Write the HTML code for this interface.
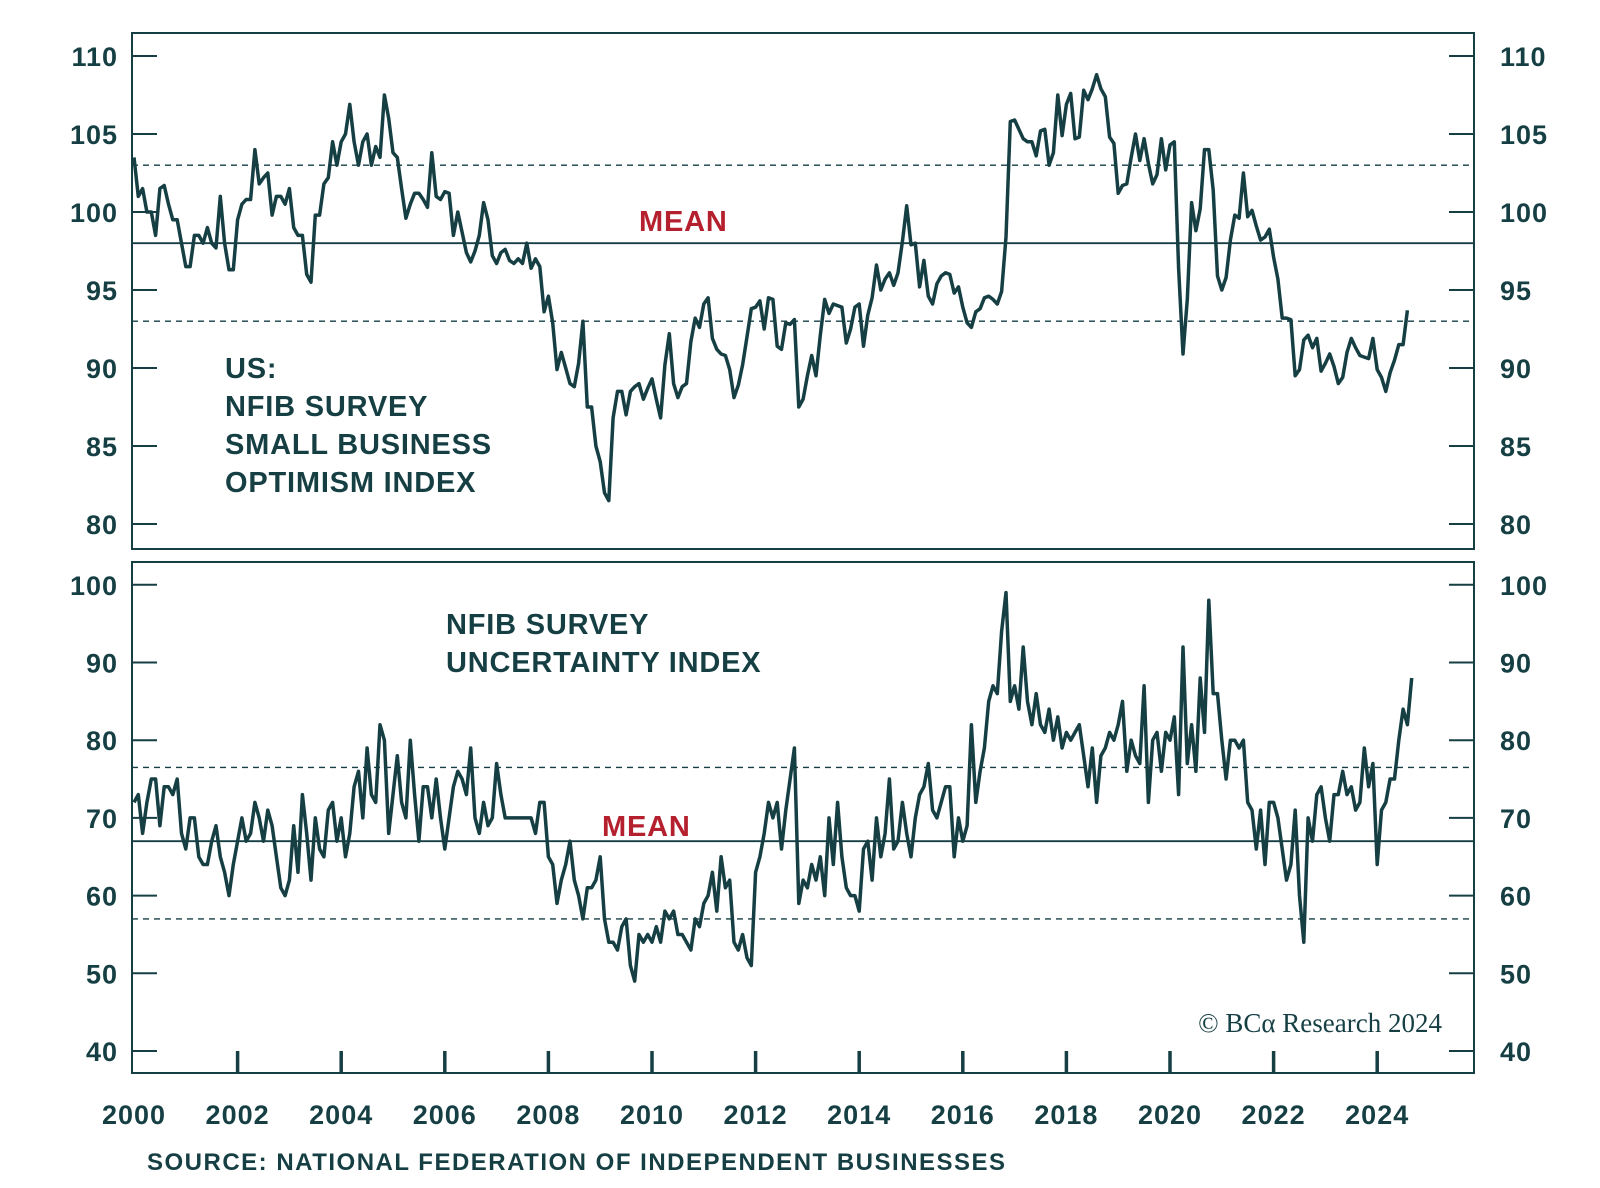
<!DOCTYPE html>
<html><head><meta charset="utf-8"><style>
body{margin:0;background:#fff;}
svg{display:block;font-family:"Liberation Sans",sans-serif;}
</style></head><body>
<svg id="c" width="1600" height="1188" viewBox="0 0 1600 1188"></svg>
<script>
const years=["2000","2002","2004","2006","2008","2010","2012","2014","2016","2018","2020","2022","2024"];
const topTicks=[80,85,90,95,100,105,110];
const botTicks=[40,50,60,70,80,90,100];
const topMean=98, topUpper=103, topLower=93;
const botMean=67, botUpper=76.5, botLower=57;
const optimism=[103.5,101,101.5,100,100,98.5,101.5,101.7,100.5,99.5,99.5,98,
96.5,96.5,98.5,98.5,98,99,98,97.7,101,98,96.3,96.3,
99.5,100.5,100.8,100.8,104,101.8,102.2,102.5,99.8,101,101,100.5,
101.5,99,98.5,98.5,96,95.5,99.8,99.8,101.8,102.2,104.5,103,
104.5,105,106.9,104.5,103,104.5,105,103,104.2,103.5,107.5,106,
103.8,103.5,101.5,99.6,100.5,101.2,101.2,100.8,100.3,103.8,101,100.8,
101.3,101.2,98.5,100,98.7,97.4,96.8,97.5,98.5,100.6,99.5,97.2,
96.7,97.4,97.6,96.9,96.7,97,96.7,98,96.4,97,96.5,93.6,
94.6,92.9,89.9,91,90,89,88.8,90.3,93,87.5,87.5,85,
84,82,81.5,86.8,88.5,88.5,87,88.5,88.8,89,88,88.7,
89.3,88,86.8,90.2,92.2,89,88.1,88.8,89,91.7,93.2,92.6,
94.1,94.5,91.9,91.2,90.9,90.8,89.9,88.1,88.9,90.2,92,93.8,
93.9,94.3,92.5,94.5,94.4,91.4,91.2,92.9,92.8,93.1,87.5,88,
89.5,90.8,89.5,92.1,94.4,93.5,94.1,94,93.9,91.6,92.5,93.9,
94.1,91.4,93.4,94.5,96.6,95,95.7,96.1,95.3,96.1,98.1,100.4,
97.9,98,95.2,96.9,94.6,94.1,95.4,95.9,96.1,96,94.8,95.2,
93.9,92.9,92.6,93.6,93.8,94.5,94.6,94.4,94.1,94.9,98.4,105.8,
105.9,105.3,104.7,104.5,104.5,103.6,105.2,105.3,103,103.8,107.5,104.9,
106.9,107.6,104.7,104.8,107.8,107.2,107.9,108.8,107.9,107.4,104.8,104.4,
101.2,101.7,101.8,103.5,105,103.3,104.7,103.1,101.8,102.4,104.7,102.7,
104.3,104.5,96.4,90.9,94.4,100.6,98.8,100.2,104,104,101.4,95.9,
95,95.8,98.2,99.8,99.6,102.5,99.7,100.1,99.1,98.2,98.4,98.9,
97.1,95.7,93.2,93.2,93.1,89.5,89.9,91.8,92.1,91.3,91.9,89.8,
90.3,90.9,90.1,89,89.4,91,91.9,91.3,90.8,90.7,90.6,91.9,
89.9,89.4,88.5,89.7,90.5,91.5,91.5,93.7];
const uncertainty=[72,73,68,72,75,75,69,74,74,73,75,68,
66,70,70,65,64,64,67,69,65,63,60,64,
67,70,67,68,72,70,67,71,69,65,61,60,
62,69,63,73,68,62,70,66,65,71,72,67,
70,65,68,74,76,70,79,73,72,82,80,68,
73,78,72,70,80,73,67,74,74,70,75,70,
66,70,74,76,75,73,79,70,68,72,69,70,
77,73,70,70,70,70,70,70,70,68,72,72,
65,64,59,62,64,67,62,60,57,61,61,62,
65,57,54,54,53,56,57,51,49,55,54,55,
54,56,54,58,57,58,55,55,54,53,57,56,
59,60,63,58,65,61,62,54,53,55,52,51,
63,65,68,72,70,72,66,71,75,79,59,62,
61,64,62,65,60,70,64,72,65,61,60,60,
58,66,67,62,70,65,68,75,66,67,72,68,
65,70,73,74,77,71,70,72,74,74,65,70,
67,69,82,72,76,79,85,87,86,94,99,85,
87,84,92,85,82,86,82,81,84,80,83,79,
81,80,81,82,78,74,79,72,78,79,81,80,
82,85,76,80,78,77,87,72,80,81,76,81,
80,83,73,92,77,82,76,88,81,98,86,86,
80,75,80,80,79,80,72,71,66,71,64,72,
72,70,66,62,64,71,60,54,70,67,73,74,
70,67,73,73,76,73,74,71,72,79,74,77,
64,71,72,75,75,80,84,82,88];

const NS="http://www.w3.org/2000/svg";
const svg=document.getElementById('c');
const INK="#163f44", RED="#b5202e";
const L=132,R=1474;
const xOf=i=>134+(i/12)*51.8;
const yTop=v=>212-(v-100)*15.6;
const yBot=v=>1051-(v-40)*7.77;
function mk(tag,attrs,text){const e=document.createElementNS(NS,tag);for(const k in attrs)e.setAttribute(k,attrs[k]);if(text!==undefined)e.textContent=text;svg.appendChild(e);return e;}

function panel(top,bot,ticks,yf,mean,up,lo,vals,nm){
  const f=mk('rect',{x:L,y:top,width:R-L,height:bot-top,fill:'none',stroke:INK,'stroke-width':2});
  
  
  ticks.forEach(t=>{const y=yf(t);
    const a=mk('line',{x1:L,x2:L+25,y1:y,y2:y,stroke:INK,'stroke-width':2});
    
    
    const b=mk('line',{x1:R-25,x2:R,y1:y,y2:y,stroke:INK,'stroke-width':2});
    
    
    const t1=mk('text',{x:118,y:y+10,'text-anchor':'end','font-size':27,'font-weight':'bold','letter-spacing':1,fill:INK},t);
    
    
    const t2=mk('text',{x:1500,y:y+10,'font-size':27,'font-weight':'bold','letter-spacing':1,fill:INK},t);
    
    
  });
  const m=mk('line',{x1:L,x2:R,y1:yf(mean),y2:yf(mean),stroke:INK,'stroke-width':1.8});
  
  
  [up,lo].forEach(v=>{const d=mk('line',{x1:L,x2:R,y1:yf(v),y2:yf(v),stroke:INK,'stroke-width':1.4,'stroke-dasharray':'6,5'});
    
    });
  const p=mk('polyline',{points:vals.map((v,i)=>xOf(i).toFixed(1)+','+yf(v).toFixed(1)).join(' '),fill:'none',stroke:INK,'stroke-width':3.5,'stroke-linejoin':'round'});
  
  
}
panel(33,549,topTicks,yTop,topMean,topUpper,topLower,optimism,'optimism');
panel(562,1073,botTicks,yBot,botMean,botUpper,botLower,uncertainty,'uncertainty');

years.forEach((y,k)=>{const x=xOf(k*24);
  if(k>0){const t=mk('line',{x1:x,x2:x,y1:1051,y2:1073,stroke:INK,'stroke-width':3.5});
  
  }
  const l=mk('text',{x:x,y:1124,'text-anchor':'middle','font-size':27,'font-weight':'bold','letter-spacing':1,fill:INK},y);
  
  
});

function label(x,y,s,txt,col,nm,w,ls){const t=mk('text',{x:x,y:y,'font-size':s,fill:col,'font-weight':w||'normal','letter-spacing':ls||0},txt);
  
  }
label(225,378,29,'US:',INK,'optimism-title-line1','bold',0.8);
label(225,416,29,'NFIB SURVEY',INK,'optimism-title-line2','bold',0.8);
label(225,454,29,'SMALL BUSINESS',INK,'optimism-title-line3','bold',0.8);
label(225,492,29,'OPTIMISM INDEX',INK,'optimism-title-line4','bold',0.8);
label(639,231,29,'MEAN',RED,'optimism-mean-label','bold',0.8);
label(446,634,29,'NFIB SURVEY',INK,'uncertainty-title-line1','bold',0.8);
label(446,672,29,'UNCERTAINTY INDEX',INK,'uncertainty-title-line2','bold',0.8);
label(602,836,29,'MEAN',RED,'uncertainty-mean-label','bold',0.8);
label(147,1170,24,'SOURCE: NATIONAL FEDERATION OF INDEPENDENT BUSINESSES',INK,'source-note','bold',1.5);
const c=mk('text',{x:1442,y:1032,'text-anchor':'end','font-size':27,fill:INK,'font-family':'Liberation Serif, serif'},'© BCα Research 2024');


</script>
</body></html>
